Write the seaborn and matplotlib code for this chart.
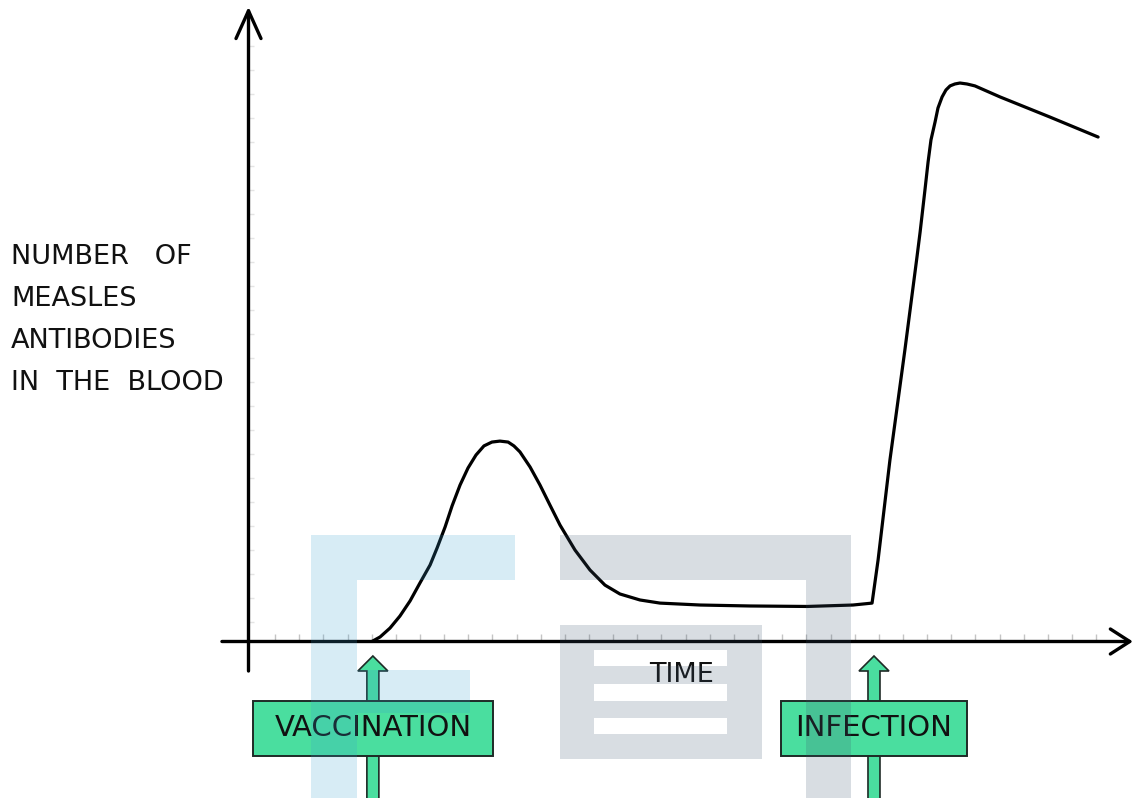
import numpy as np
import pandas as pd
import seaborn as sns
import matplotlib
matplotlib.use("Agg")
import matplotlib.pyplot as plt
from matplotlib.patches import Rectangle, Polygon

# ---------------- data ----------------
time = [5.11, 5.45, 5.86, 6.27, 6.69, 7.10, 7.52, 7.81, 8.14, 8.43, 8.76, 9.09,
        9.42, 9.75, 10.08, 10.41, 10.75, 10.99, 11.24, 11.66, 12.07, 12.48, 12.90,
        13.52, 14.14, 14.76, 15.38, 16.21, 17.04, 18.70, 20.77, 23.13, 25.03,
        25.82, 26.07, 26.56, 27.18, 27.68, 27.81, 28.01, 28.14, 28.26, 28.43, 28.55,
        28.72, 28.88, 29.05, 29.25, 29.46, 29.75, 30.08, 31.12, 33.19, 35.18]
antibodies = [0.00, 0.19, 0.56, 1.06, 1.69, 2.44, 3.19, 3.90, 4.77, 5.65, 6.52, 7.23,
              7.77, 8.15, 8.31, 8.35, 8.31, 8.15, 7.90, 7.27, 6.52, 5.69, 4.85,
              3.81, 2.98, 2.35, 1.98, 1.73, 1.60, 1.52, 1.48, 1.46, 1.52,
              1.60, 3.40, 7.56, 12.15, 16.02, 17.06, 18.81, 19.98, 20.90, 21.65, 22.23,
              22.69, 22.98, 23.15, 23.23, 23.27, 23.23, 23.15, 22.69, 21.85, 21.02]
events = ["VACCINATION", "INFECTION"]
event_times = [5.15, 25.9]
y_label_lines = ["NUMBER   OF", "MEASLES", "ANTIBODIES", "IN  THE  BLOOD"]
x_label = "TIME"

df = pd.DataFrame({"time": time, "antibodies": antibodies})

sns.set_theme(style="white")
plt.rcParams["font.family"] = ["DejaVu Sans"]

W, H = 1135, 798
fig = plt.figure(figsize=(W / 100, H / 100), dpi=100)
fig.patch.set_facecolor("white")

# main axes: origin at pixel (248.5, 641.5); 1 x unit = 24.15 px, 1 y unit = 24 px
x0p, y0p = 248.5, 641.5
ax = fig.add_axes([x0p / W, (H - y0p) / H, (W - x0p) / W, y0p / H])
ax.set_xlim(0, (W - x0p) / 24.15)
ax.set_ylim(0, y0p / 24.0)
ax.patch.set_alpha(0)
for s in ax.spines.values():
    s.set_visible(False)

sns.lineplot(data=df, x="time", y="antibodies", ax=ax, color="black", lw=2.3,
             sort=False, estimator=None, zorder=5,
             solid_joinstyle="round", solid_capstyle="round")
ax.set_xlabel("")
ax.set_ylabel("")

# faint hand-drawn tick marks
ax.set_xticks(np.arange(1.1, 35.2, 1.0))
ax.set_yticks(np.arange(0.8, 25.0, 1.0))
ax.tick_params(axis="x", direction="in", length=6, width=1, color="#c4c4c4",
               labelbottom=False, bottom=True)
ax.tick_params(axis="y", direction="in", length=4, width=1, color="#e4e4e4",
               labelleft=False, left=True)

# axis lines with open arrow heads
arrow_kw = dict(arrowstyle="->,head_length=0.7,head_width=0.45", lw=2.4,
                color="black", shrinkA=0, shrinkB=0, mutation_scale=20)
ax.annotate("", xy=(36.62, 0), xytext=(-1.10, 0), arrowprops=arrow_kw,
            annotation_clip=False)
arrow_kw2 = dict(arrow_kw)
arrow_kw2["arrowstyle"] = "->,head_length=1.0,head_width=0.45"
ax.annotate("", xy=(0, 26.45), xytext=(0, -1.23), arrowprops=arrow_kw2,
            annotation_clip=False)

# event arrows and boxes
box_half_w = {"VACCINATION": 120 / 24.15, "INFECTION": 93 / 24.15}
green = "#4ade9f"
edge = "#1e2a26"
for name, t in zip(events, event_times):
    sw, hw = 6 / 24.15, 15 / 24.15
    tip, base, bottom = -14.5 / 24, -29.5 / 24, -170 / 24
    arrow = Polygon([(t, tip), (t + hw, base), (t + sw, base), (t + sw, bottom),
                     (t - sw, bottom), (t - sw, base), (t - hw, base)],
                    closed=True, facecolor=green, edgecolor=edge, lw=1.2,
                    clip_on=False, zorder=6)
    ax.add_patch(arrow)
    bw = box_half_w[name]
    rect = Rectangle((t - bw, -114.5 / 24), 2 * bw, 55 / 24, facecolor=green,
                     edgecolor=edge, lw=1.4, clip_on=False, zorder=7)
    ax.add_patch(rect)
    ax.text(t, -87 / 24, name, ha="center", va="center", fontsize=21,
            color="#111111", zorder=8, clip_on=False)

# axis labels
for i, line in enumerate(y_label_lines):
    fig.text(11 / W, 1 - (257 + 42 * i) / H, line, ha="left", va="center",
             fontsize=19.5, color="#111111")
ax.text(17.95, -33 / 24, x_label, ha="center", va="center", fontsize=19.5,
        color="#111111", clip_on=False, zorder=8)

# watermark overlay (pixel coordinates)
ov = fig.add_axes([0, 0, 1, 1])
ov.set_xlim(0, W)
ov.set_ylim(H, 0)
ov.axis("off")
ov.patch.set_alpha(0)
blue_rects = [(311, 535, 357, 798), (357, 535, 515, 580), (357, 670, 470, 713)]
grey_rects = [(560, 535, 851, 580), (806, 580, 851, 798),
              (560, 625, 594, 759), (727, 625, 762, 759),
              (594, 625, 727, 650), (594, 666, 727, 684), (594, 701, 727, 718),
              (594, 734, 727, 759)]
for (a, b, c, d) in blue_rects:
    ov.add_patch(Rectangle((a, b), c - a, d - b, facecolor=(58/255, 160/255, 208/255),
                           alpha=0.2, lw=0))
for (a, b, c, d) in grey_rects:
    ov.add_patch(Rectangle((a, b), c - a, d - b, facecolor=(60/255, 85/255, 110/255),
                           alpha=0.2, lw=0))

fig.savefig("out.png", dpi=100)
